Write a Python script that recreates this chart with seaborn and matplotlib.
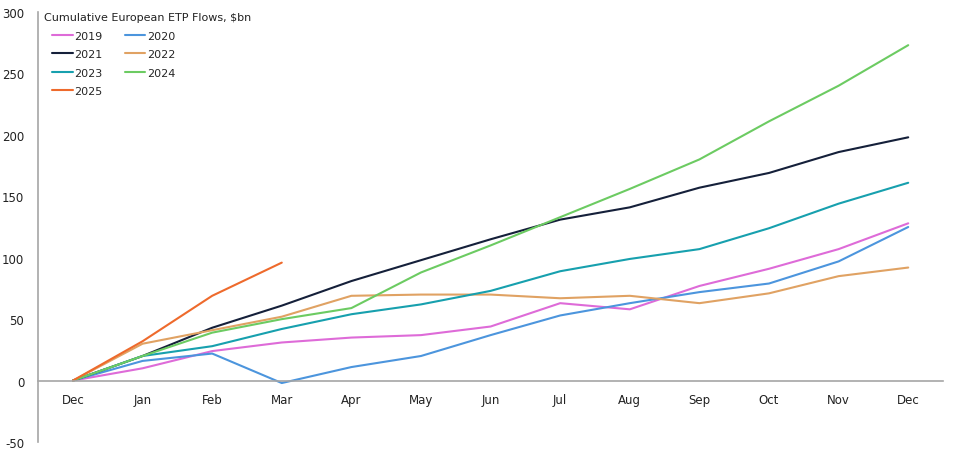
"""Cumulative European ETP flows by year, recreated with seaborn."""

import matplotlib
matplotlib.use("Agg")
import matplotlib.pyplot as plt
import numpy as np
import pandas as pd
import seaborn as sns

MONTHS = ["Dec", "Jan", "Feb", "Mar", "Apr", "May", "Jun",
          "Jul", "Aug", "Sep", "Oct", "Nov", "Dec"]

Y2019 = [0, 10, 24, 31, 35, 37, 44, 63, 58, 77, 91, 107, 128]
Y2020 = [0, 16, 22, -2, 11, 20, 37, 53, 63, 72, 79, 97, 125]
Y2021 = [0, 20, 43, 61, 81, 98, 115, 131, 141, 157, 169, 186, 198]
Y2022 = [0, 30, 41, 52, 69, 70, 70, 67, 69, 63, 71, 85, 92]
Y2023 = [0, 20, 28, 42, 54, 62, 73, 89, 99, 107, 124, 144, 161]
Y2024 = [0, 20, 39, 50, 59, 88, 110, 133, 156, 180, 211, 240, 273]
Y2025 = [0, 32, 69, 96]

SERIES = {"2019": Y2019, "2020": Y2020, "2021": Y2021, "2022": Y2022,
          "2023": Y2023, "2024": Y2024, "2025": Y2025}

COLORS = {"2019": "#DE6BD8", "2020": "#4C95DD", "2021": "#15203A",
          "2022": "#E0A263", "2023": "#17A0AE", "2024": "#6CCB62",
          "2025": "#EE6A2C"}

TITLE = "Cumulative European ETP Flows, $bn"

rows = []
for year, vals in SERIES.items():
    for i, v in enumerate(vals):
        rows.append({"pos": i, "value": v, "year": year})
df = pd.DataFrame(rows)

sns.set_theme(style="white")
plt.rcParams["font.family"] = ["DejaVu Sans"]
plt.rcParams["axes.unicode_minus"] = False

W, H = 954, 456
fig = plt.figure(figsize=(W / 100, H / 100), dpi=100)
ax = fig.add_axes([0.04, 0.0285, 0.9485, 0.943])

sns.lineplot(data=df, x="pos", y="value", hue="year", palette=COLORS,
             linewidth=1.5, ax=ax, sort=False)

ax.set_xlim(-0.5, 12.5)
ax.set_ylim(-50, 300)
ax.set_yticks(np.arange(-50, 301, 50))
ax.set_xticks(range(len(MONTHS)))
ax.set_xticklabels(MONTHS)
ax.set_xlabel("")
ax.set_ylabel("")

for side in ("top", "right"):
    ax.spines[side].set_visible(False)
ax.spines["left"].set_color("#A6A6A6")
ax.spines["left"].set_linewidth(1.2)
ax.spines["bottom"].set_position(("data", 0))
ax.spines["bottom"].set_color("#A6A6A6")
ax.spines["bottom"].set_linewidth(1.2)
ax.tick_params(axis="both", length=0, labelsize=8.5, colors="#222222")
ax.tick_params(axis="x", pad=9)
ax.tick_params(axis="y", pad=10)

# legend title drawn separately so the entries can sit indented under it
fig.text(44 / W, 1 - 18 / H, TITLE, fontsize=8, color="#222222",
         ha="left", va="center")

handles, labels = ax.get_legend_handles_labels()
lookup = dict(zip(labels, handles))
order = ["2019", "2021", "2023", "2025", "2020", "2022", "2024"]
ax.legend([lookup[k] for k in order], order, ncol=2,
          loc="upper left", bbox_to_anchor=(52 / W, 1 - 32 / H),
          bbox_transform=fig.transFigure, frameon=False,
          fontsize=8, handlelength=1.85, handletextpad=0.15,
          columnspacing=2.0, labelspacing=0.75, borderpad=0,
          borderaxespad=0)

fig.savefig("out.png", dpi=100)
